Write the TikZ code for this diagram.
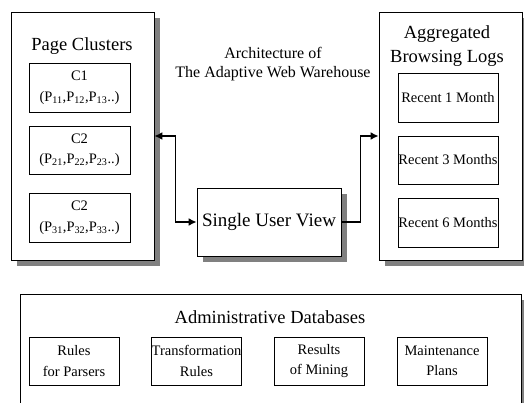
\documentclass[tikz,border=0pt]{standalone}
\usepackage{fontspec}
\setmainfont{Liberation Serif}
\usetikzlibrary{shadows}
\usetikzlibrary{arrows.meta}

\begin{document}
\begin{tikzpicture}[x=1pt,y=-1pt,
panel/.style={draw, line width=.8pt, fill=white, inner sep=0pt, drop shadow={shadow xshift=6pt, shadow yshift=-6pt, fill=gray, opacity=1}},
cell/.style={draw, line width=.8pt, fill=white, inner sep=0pt, align=center, font=\fontsize{14.5}{20.5}\selectfont},
heading/.style={align=center, font=\fontsize{18.5}{24}\selectfont},
flow/.style={line width=1.6pt}]
\useasboundingbox (0,0) rectangle (524,403);
\clip (0,0) rectangle (524,403);
\node[panel, minimum width=143pt, minimum height=248pt] (clusters) at (82.5,136) {};
\node[panel, minimum width=143pt, minimum height=248pt] (logs) at (450.5,136) {};
\node[panel, minimum width=144pt, minimum height=68pt, font=\fontsize{19}{23}\selectfont] (view) at (269,222) {Single User View};
\node[panel, minimum width=501pt, minimum height=140pt, anchor=north west] (admin) at (20,294) {};
\node[heading] (clusterstitle) at (82,46.5) {Page Clusters};
\node[heading] (logstitle) at (447,46.5) {Aggregated\\Browsing Logs};
\node[align=center, font=\fontsize{16}{19}\selectfont] (title) at (273,64.5) {Architecture of\\The Adaptive Web Warehouse};
\node[heading] (admintitle) at (270,317) {Administrative Databases};
\node[cell, minimum width=101pt, minimum height=49pt] (c1) at (79.5,87.5) {C1\\(P\textsubscript{11},P\textsubscript{12},P\textsubscript{13}..)};
\node[cell, minimum width=101pt, minimum height=48pt] (c2) at (79.5,150) {C2\\(P\textsubscript{21},P\textsubscript{22},P\textsubscript{23}..)};
\node[cell, minimum width=101pt, minimum height=49pt] (c3) at (79.5,217.5) {C2\\(P\textsubscript{31},P\textsubscript{32},P\textsubscript{33}..)};
\node[cell, minimum width=100pt, minimum height=49pt] (month1) at (448,97.5) {Recent 1 Month};
\node[cell, minimum width=100pt, minimum height=48pt] (month3) at (448,160) {Recent 3 Months};
\node[cell, minimum width=100pt, minimum height=49pt] (month6) at (448,222.5) {Recent 6 Months};
\node[cell, minimum width=90pt, minimum height=48pt] (parsers) at (74,361) {Rules\\for Parsers};
\node[cell, minimum width=89pt, minimum height=48pt] (transform) at (196.5,361) {Transformation\\Rules};
\node[cell, minimum width=90pt, minimum height=48pt] (mining) at (319,361) {Results\\of Mining};
\node[cell, minimum width=90pt, minimum height=48pt] (plans) at (442,361) {Maintenance\\Plans};
\draw[flow, {Latex[length=8pt,width=8pt]}-{Latex[length=8pt,width=8pt]}] (clusters.east) -- ++(21,0) |- (view.west);
\draw[flow, -{Latex[length=8pt,width=8pt]}] (view.east) -- ++(19,0) |- (logs.west);
\end{tikzpicture}
\end{document}
